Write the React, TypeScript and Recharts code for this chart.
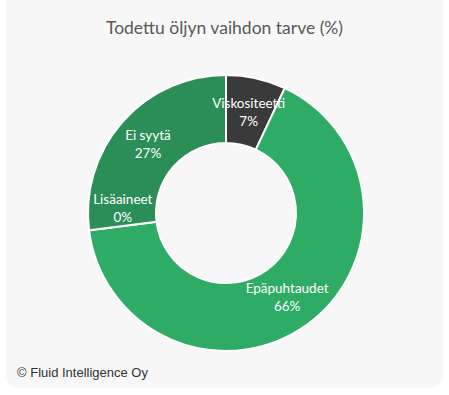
import { PieChart, Pie, Cell } from "recharts"

const categories = ["Viskositeetti", "Epäpuhtaudet", "Lisäaineet", "Ei syytä"]
const shares = [7, 66, 0, 27]
const sliceColors = ["#3a3a3a", "#2eab64", "#2b9058", "#2b8e57"]

const data = categories.map((name, i) => ({ name, value: shares[i] }))

const RAD = Math.PI / 180
const LABEL_FONT = "Lato, 'Noto Sans', sans-serif"

// Excel pushed the zero-size slice's label up a bit so it won't collide
const nudgeY: Record<string, number> = { Lisäaineet: -18 }

function renderLabel(props: any) {
  const { cx, cy, midAngle, innerRadius, outerRadius, name, value } = props
  const r = (innerRadius + outerRadius) / 2
  const x = cx + r * Math.cos(-midAngle * RAD)
  const y = cy + r * Math.sin(-midAngle * RAD) + (nudgeY[name] ?? 0)
  return (
    <text
      x={x}
      y={y}
      fill="#ffffff"
      fontSize={13.5}
      fontFamily={LABEL_FONT}
      textAnchor="middle"
    >
      <tspan x={x} dy={-4}>{name}</tspan>
      <tspan x={x} dy={18}>{`${value}%`}</tspan>
    </text>
  )
}

export default function App() {
  return (
    <div style={{ position: "absolute", left: 0, top: 0, width: 449, height: 395, background: "#ffffff" }}>
      <div
        style={{
          position: "absolute",
          left: 6,
          top: -10,
          width: 437,
          height: 398,
          background: "#f7f7f7",
          borderRadius: 12,
        }}
      />
      <div
        style={{
          position: "absolute",
          left: 0,
          top: 17,
          width: 449,
          textAlign: "center",
          fontFamily: LABEL_FONT,
          fontSize: 17.5,
          color: "#595959",
        }}
      >
        Todettu öljyn vaihdon tarve (%)
      </div>
      <div style={{ position: "absolute", left: 0, top: 0 }}>
        <PieChart width={449} height={395} margin={{ top: 0, right: 0, bottom: 0, left: 0 }}>
          <Pie
            data={data}
            dataKey="value"
            nameKey="name"
            cx={226}
            cy={213}
            innerRadius={70}
            outerRadius={138}
            startAngle={90}
            endAngle={-270}
            stroke="#ffffff"
            strokeWidth={2}
            label={renderLabel}
            labelLine={false}
            isAnimationActive={false}
          >
            {data.map((entry, idx) => (
              <Cell key={`cell-${entry.name}`} fill={sliceColors[idx]} />
            ))}
          </Pie>
        </PieChart>
      </div>
      <div
        style={{
          position: "absolute",
          left: 17,
          top: 365,
          fontFamily: "'Liberation Sans', Arial, sans-serif",
          fontSize: 13,
          color: "#333333",
        }}
      >
        © Fluid Intelligence Oy
      </div>
    </div>
  )
}
